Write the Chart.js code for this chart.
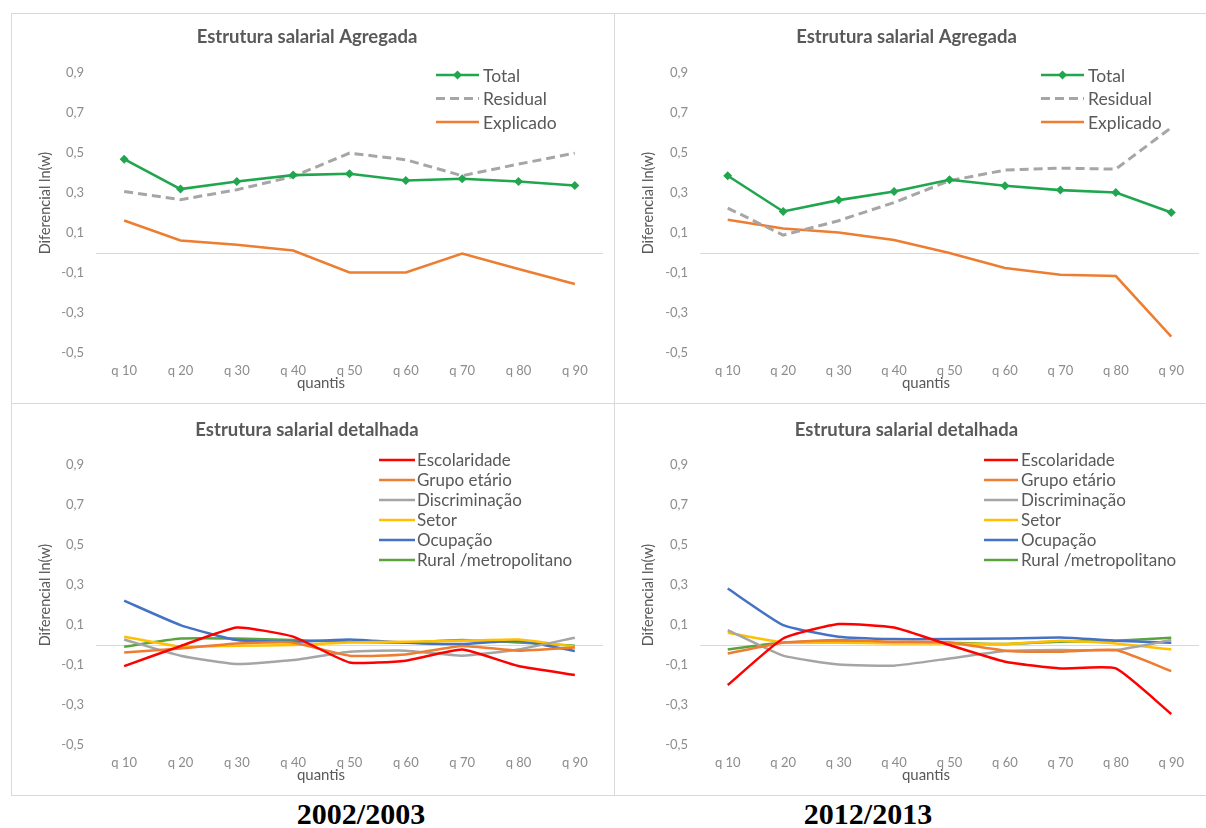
<!DOCTYPE html>
<html>
<head>
<meta charset="utf-8">
<script src="https://cdn.jsdelivr.net/npm/chart.js@4.4.1/dist/chart.umd.min.js"></script>
<style>
html,body{margin:0;padding:0;width:1206px;height:828px;overflow:hidden;background:#fff;}
.ln{position:absolute;background:#d9d9d9;}
canvas{position:absolute;}
.yr{position:absolute;top:797px;font-family:"Liberation Serif","Times New Roman",serif;font-weight:bold;font-size:30px;color:#000;transform:translateX(-50%);white-space:nowrap;}
</style>
</head>
<body>
<div class="ln" style="left:11px;top:13px;width:1195px;height:1px"></div>
<div class="ln" style="left:11px;top:403px;width:1195px;height:1px"></div>
<div class="ln" style="left:11px;top:795px;width:1195px;height:1px"></div>
<div class="ln" style="left:11px;top:13px;width:1px;height:783px"></div>
<div class="ln" style="left:614px;top:13px;width:1px;height:783px"></div>
<canvas id="c1" width="603" height="390" style="left:11px;top:13px"></canvas>
<canvas id="c2" width="592" height="390" style="left:614px;top:13px"></canvas>
<canvas id="c3" width="603" height="392" style="left:11px;top:403px"></canvas>
<canvas id="c4" width="592" height="392" style="left:614px;top:403px"></canvas>
<div class="yr" style="left:361px">2002/2003</div>
<div class="yr" style="left:868px">2012/2013</div>
<script>
// ---- data ----
const quantis = ['q 10','q 20','q 30','q 40','q 50','q 60','q 70','q 80','q 90'];
const yTicks = [-0.5,-0.3,-0.1,0.1,0.3,0.5,0.7,0.9];

const total2002     = [0.47, 0.32, 0.358, 0.39, 0.397, 0.363, 0.372, 0.358, 0.338];
const residual2002  = [0.308, 0.267, 0.317, 0.383, 0.50, 0.467, 0.387, 0.445, 0.50];
const explicado2002 = [0.163, 0.063, 0.042, 0.013, -0.097, -0.097, -0.003, -0.08, -0.155];

const total2012     = [0.387, 0.208, 0.265, 0.308, 0.367, 0.337, 0.315, 0.303, 0.203];
const residual2012  = [0.225, 0.09, 0.162, 0.253, 0.362, 0.415, 0.425, 0.42, 0.628];
const explicado2012 = [0.167, 0.123, 0.103, 0.065, 0.0, -0.075, -0.108, -0.115, -0.418];

const escolaridade2002 = [-0.105, -0.005, 0.088, 0.042, -0.087, -0.078, -0.022, -0.105, -0.15];
const grupo2002        = [-0.037, -0.017, 0.008, 0.012, -0.053, -0.047, -0.005, -0.028, -0.012];
const discrim2002      = [0.028, -0.053, -0.095, -0.075, -0.033, -0.028, -0.053, -0.022, 0.037];
const setor2002        = [0.042, -0.008, -0.003, 0.0, 0.013, 0.017, 0.022, 0.028, -0.008];
const ocupacao2002     = [0.222, 0.10, 0.025, 0.017, 0.028, 0.012, 0.005, 0.022, -0.03];
const rural2002        = [-0.008, 0.033, 0.033, 0.025, 0.017, 0.013, 0.025, 0.013, -0.003];

const escolaridade2012 = [-0.20, 0.033, 0.105, 0.088, 0.0, -0.083, -0.117, -0.117, -0.345];
const grupo2012        = [-0.042, 0.012, 0.025, 0.017, 0.013, -0.028, -0.033, -0.025, -0.13];
const discrim2012      = [0.075, -0.053, -0.097, -0.103, -0.067, -0.03, -0.025, -0.025, 0.025];
const setor2012        = [0.062, 0.013, 0.012, 0.008, 0.008, 0.005, 0.022, 0.008, -0.022];
const ocupacao2012     = [0.283, 0.10, 0.042, 0.03, 0.03, 0.033, 0.038, 0.022, 0.012];
const rural2012        = [-0.022, 0.013, 0.017, 0.013, 0.012, 0.005, 0.017, 0.022, 0.037];

const aggLabels = ['Total','Residual','Explicado'];
const detLabels = ['Escolaridade','Grupo etário','Discriminação','Setor','Ocupação','Rural /metropolitano'];

// ---- styles ----
const FONT = 'Lato, Carlito, "Open Sans", sans-serif';
const GREEN = '#20a64e', GREYD = '#a6a6a6', ORANGE = '#ed7d31';
const detColors = ['#ff0000','#ed7d31','#a5a5a5','#ffc000','#4472c4','#5ba33f'];

const zeroLine = {
  id: 'zeroLine',
  beforeDatasetsDraw(chart) {
    const {ctx, chartArea} = chart;
    const y = chart.scales.y.getPixelForValue(0);
    ctx.save();
    ctx.strokeStyle = '#d9d9d9';
    ctx.lineWidth = 1;
    ctx.beginPath();
    ctx.moveTo(chartArea.left, Math.round(y) + 0.5);
    ctx.lineTo(chartArea.right, Math.round(y) + 0.5);
    ctx.stroke();
    ctx.restore();
  }
};

const innerLegend = {
  id: 'innerLegend',
  afterDraw(chart, args, o) {
    const ctx = chart.ctx;
    ctx.save();
    ctx.font = o.fontSize + 'px ' + FONT;
    ctx.textBaseline = 'middle';
    ctx.textAlign = 'left';
    chart.data.datasets.forEach((ds, i) => {
      const y = o.y + i * o.rowH;
      ctx.strokeStyle = ds.borderColor;
      ctx.lineWidth = ds.borderWidth;
      ctx.setLineDash(ds.borderDash || []);
      ctx.beginPath();
      ctx.moveTo(o.x1, y);
      ctx.lineTo(o.x2, y);
      ctx.stroke();
      ctx.setLineDash([]);
      if (ds.pointRadius > 0) {
        const cx = (o.x1 + o.x2) / 2, r = ds.pointRadius;
        ctx.fillStyle = ds.borderColor;
        ctx.beginPath();
        ctx.moveTo(cx, y - r); ctx.lineTo(cx + r, y); ctx.lineTo(cx, y + r); ctx.lineTo(cx - r, y);
        ctx.closePath(); ctx.fill();
      }
      ctx.fillStyle = '#595959';
      ctx.fillText(ds.label, o.tx, y + 1);
    });
    ctx.restore();
  }
};

const xTitle = {
  id: 'xTitle',
  afterDraw(chart, args, o) {
    const ctx = chart.ctx;
    ctx.save();
    ctx.font = '15px ' + FONT;
    ctx.fillStyle = '#595959';
    ctx.textAlign = 'center';
    ctx.textBaseline = 'middle';
    ctx.fillText(o.text, o.x, chart.height - o.fromBottom);
    ctx.restore();
  }
};

function makeChart(id, title, datasets, opt) {
  return new Chart(document.getElementById(id), {
    type: 'line',
    data: { labels: quantis, datasets },
    plugins: [zeroLine, innerLegend, xTitle],
    options: {
      responsive: false,
      animation: false,
      devicePixelRatio: 1,
      layout: { padding: { left: 0, right: opt.padRight, top: 0, bottom: 0 } },
      plugins: {
        legend: { display: false },
        tooltip: { enabled: false },
        title: {
          display: true, text: title, color: '#595959',
          font: { family: FONT, size: 18.5, weight: 'bold', lineHeight: 1.2 },
          padding: { top: opt.titleTop, bottom: opt.titleBottom }
        },
        innerLegend: opt.legend,
        xTitle: { text: 'quantis', x: opt.xTitleX, fromBottom: 20 }
      },
      scales: {
        x: {
          type: 'category', offset: true,
          grid: { display: false, drawTicks: false },
          border: { display: false },
          ticks: { color: '#8c8c8c', font: { family: FONT, size: 13 }, padding: 10, maxRotation: 0, autoSkip: false },
          afterFit(s) { s.height = 50; }
        },
        y: {
          min: -0.5, max: 1.0,
          afterBuildTicks(s) { s.ticks = yTicks.map(v => ({ value: v })); },
          grid: { display: false, drawTicks: false },
          border: { display: false },
          ticks: {
            color: '#8c8c8c', font: { family: FONT, size: 13 }, padding: 12,
            callback: v => v.toFixed(1).replace('.', ',')
          },
          title: {
            display: true, text: 'Diferencial ln(w)', color: '#595959',
            font: { family: FONT, size: 14.5, lineHeight: 1.2 },
            padding: { top: 26, bottom: 0 }
          },
          afterFit(s) { s.width = opt.yWidth; }
        }
      }
    }
  });
}

function aggSets(t, r, e) {
  return [
    { label: aggLabels[0], data: t, borderColor: GREEN, backgroundColor: GREEN, borderWidth: 2.6,
      pointStyle: 'rectRot', pointRadius: 4.5, pointBorderWidth: 0, pointBackgroundColor: GREEN, tension: 0 },
    { label: aggLabels[1], data: r, borderColor: GREYD, borderWidth: 3, borderDash: [9, 5], pointRadius: 0, tension: 0 },
    { label: aggLabels[2], data: e, borderColor: ORANGE, borderWidth: 2.5, pointRadius: 0, tension: 0 }
  ];
}
function detSets(arrs) {
  return arrs.map((d, i) => ({
    label: detLabels[i], data: d, borderColor: detColors[i], borderWidth: 2.5,
    pointRadius: 0, tension: 0.15
  }));
}

makeChart('c1', 'Estrutura salarial Agregada', aggSets(total2002, residual2002, explicado2002),
  { padRight: 11, yWidth: 85, titleTop: 13, titleBottom: 5, xTitleX: 310,
    legend: { x1: 425, x2: 468, tx: 472, y: 62, rowH: 23.5, fontSize: 17.5 } });
makeChart('c2', 'Estrutura salarial Agregada', aggSets(total2012, residual2012, explicado2012),
  { padRight: 7, yWidth: 86, titleTop: 13, titleBottom: 5, xTitleX: 312,
    legend: { x1: 427, x2: 470, tx: 474, y: 62, rowH: 23.5, fontSize: 17.5 } });
makeChart('c3', 'Estrutura salarial detalhada',
  detSets([escolaridade2002, grupo2002, discrim2002, setor2002, ocupacao2002, rural2002]),
  { padRight: 11, yWidth: 85, titleTop: 16, titleBottom: 4, xTitleX: 310,
    legend: { x1: 368, x2: 404, tx: 406, y: 57, rowH: 20, fontSize: 17 } });
makeChart('c4', 'Estrutura salarial detalhada',
  detSets([escolaridade2012, grupo2012, discrim2012, setor2012, ocupacao2012, rural2012]),
  { padRight: 7, yWidth: 86, titleTop: 16, titleBottom: 4, xTitleX: 312,
    legend: { x1: 370, x2: 404, tx: 407, y: 57, rowH: 20, fontSize: 17 } });
</script>
</body>
</html>
